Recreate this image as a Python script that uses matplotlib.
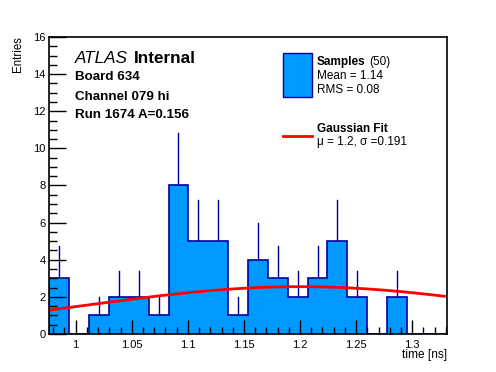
import numpy as np
import matplotlib
matplotlib.use("Agg")
import matplotlib.pyplot as plt
from matplotlib.ticker import MultipleLocator, FuncFormatter
from matplotlib.patches import Rectangle
from matplotlib.lines import Line2D

plt.rcParams['font.family'] = ['Liberation Sans', 'DejaVu Sans']

# histogram data (20 bins across the axis range)
x_min, x_max = 0.9765, 1.3307
counts = [3, 0, 1, 2, 2, 1, 8, 5, 5, 1, 4, 3, 2, 3, 5, 2, 0, 2, 0, 0]
n_samples = 50
mean_val, rms_val = 1.14, 0.08

# gaussian fit parameters
fit_amp = 2.55
fit_mu = 1.2
fit_sigma = 0.191

blue_fill = "#0099ff"
blue_line = "#000099"

edges = np.linspace(x_min, x_max, len(counts) + 1)
centers = 0.5 * (edges[:-1] + edges[1:])
counts = np.array(counts, dtype=float)

fig = plt.figure(figsize=(4.96, 3.72), dpi=100)
ax = fig.add_axes([0.0994, 0.1022, 0.8012, 0.7983])
ax.set_axisbelow(False)  # ticks over the filled bars, like ROOT

# error bars first so the fill hides the lower half
for c, n in zip(centers, counts):
    if n > 0:
        ax.plot([c, c], [n - np.sqrt(n), n + np.sqrt(n)], color=blue_line, lw=1, zorder=1)

ax.stairs(counts, edges, fill=True, color=blue_fill, zorder=1.2)
ax.stairs(counts, edges, color=blue_line, lw=1.2, zorder=1.3)

xf = np.linspace(x_min, x_max - 0.002, 300)
yf = fit_amp * np.exp(-0.5 * ((xf - fit_mu) / fit_sigma) ** 2)
ax.plot(xf, yf, color="red", lw=2, zorder=1.4)

ax.set_xlim(x_min, x_max)
ax.set_ylim(0, 16)
ax.xaxis.set_major_locator(MultipleLocator(0.05))
ax.xaxis.set_minor_locator(MultipleLocator(0.01))
ax.yaxis.set_major_locator(MultipleLocator(2))
ax.yaxis.set_minor_locator(MultipleLocator(0.5))
ax.xaxis.set_major_formatter(FuncFormatter(lambda v, p: f"{v:g}"))
ax.tick_params(axis="x", which="major", direction="in", length=10, width=1, labelsize=8, pad=4)
ax.tick_params(axis="x", which="minor", direction="in", length=5, width=1)
ax.tick_params(axis="y", which="major", direction="in", length=12, width=1, labelsize=8, pad=2.5)
ax.tick_params(axis="y", which="minor", direction="in", length=6, width=1)
for s in ax.spines.values():
    s.set_linewidth(1.2)

fig.text(0.9006, 0.030, "time [ns]", ha="right", va="bottom", fontsize=8.6)
fig.text(0.036, 0.903, "Entries", ha="center", va="top", rotation=90, fontsize=8.3)

# labels
ax.text(0.064, 0.929, "ATLAS", transform=ax.transAxes, style="italic", fontsize=12.3, va="center")
ax.text(0.213, 0.929, "Internal", transform=ax.transAxes, weight="bold", fontsize=12.3, va="center")
ax.text(0.064, 0.866, "Board 634", transform=ax.transAxes, weight="bold", fontsize=9.6, va="center")
ax.text(0.064, 0.799, "Channel 079 hi", transform=ax.transAxes, weight="bold", fontsize=9.6, va="center")
ax.text(0.064, 0.736, "Run 1674 A=0.156", transform=ax.transAxes, weight="bold", fontsize=9.6, va="center")

# legend drawn by hand (ROOT style)
ax.add_patch(Rectangle((283, 372 - 97), 29, 44, transform=None, facecolor=blue_fill,
                       edgecolor=blue_line, lw=1, zorder=5))
ax.add_line(Line2D([283, 312], [372 - 136, 372 - 136], transform=None, color="red", lw=2, zorder=5))
ax.text(317 / 496, 1 - 62 / 372, "Samples", transform=fig.transFigure, weight="bold", fontsize=8.5, va="center")
ax.text(369 / 496, 1 - 62 / 372, f"({n_samples})", transform=fig.transFigure, fontsize=8.5, va="center")
ax.text(317 / 496, 1 - 76 / 372, f"Mean = {mean_val:.2f}", transform=fig.transFigure, fontsize=8.5, va="center")
ax.text(317 / 496, 1 - 90 / 372, f"RMS = {rms_val:.2f}", transform=fig.transFigure, fontsize=8.5, va="center")
ax.text(317 / 496, 1 - 129 / 372, "Gaussian Fit", transform=fig.transFigure, weight="bold", fontsize=8.5, va="center")
ax.text(317 / 496, 1 - 142 / 372, f"μ = {fit_mu:g}, σ ={fit_sigma:g}", transform=fig.transFigure,
        fontsize=8.5, va="center")

fig.savefig("out.png", dpi=100)
